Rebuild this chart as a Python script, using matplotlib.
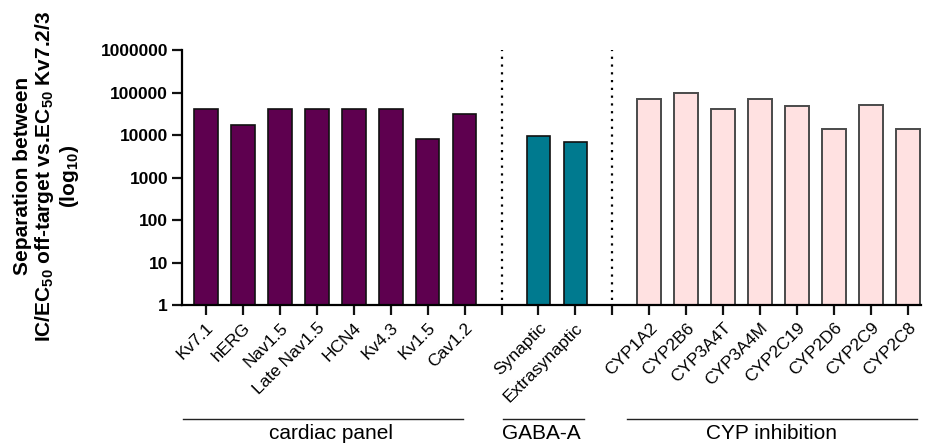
import matplotlib

matplotlib.use("Agg")
import matplotlib.pyplot as plt
import matplotlib.ticker as mticker
import numpy as np

plt.rcParams["font.family"] = ["Liberation Sans", "DejaVu Sans"]
plt.rcParams["mathtext.fontset"] = "custom"
plt.rcParams["mathtext.rm"] = "Liberation Sans"
plt.rcParams["mathtext.bf"] = "Liberation Sans:bold"

# Data (log scale, fold separation)
cardiac_labels = ["Kv7.1", "hERG", "Nav1.5", "Late Nav1.5", "HCN4", "Kv4.3", "Kv1.5", "Cav1.2"]
cardiac_values = [42000, 17000, 42000, 42000, 42000, 42000, 7900, 32000]

gaba_labels = ["Synaptic", "Extrasynaptic"]
gaba_values = [9500, 6700]

cyp_labels = ["CYP1A2", "CYP2B6", "CYP3A4T", "CYP3A4M", "CYP2C19", "CYP2D6", "CYP2C9", "CYP2C8"]
cyp_values = [70000, 99000, 41000, 69000, 49000, 14000, 51000, 13800]

group_names = ["cardiac panel", "GABA-A", "CYP inhibition"]
y_ticks = [1, 10, 100, 1000, 10000, 100000, 1000000]

# x positions: one empty slot between groups
cardiac_x = np.arange(len(cardiac_labels))
gaba_x = np.arange(len(gaba_labels)) + len(cardiac_labels) + 1
cyp_x = np.arange(len(cyp_labels)) + gaba_x[-1] + 2
sep_x = [len(cardiac_labels), gaba_x[-1] + 1]

fig = plt.figure(figsize=(9.27, 4.43), dpi=100)
ax = fig.add_axes([0.1963, 0.3115, 0.797, 0.5755])

bar_w = 0.64
ax.bar(cardiac_x, cardiac_values, width=bar_w, color="#5E004F", edgecolor="#111111", linewidth=1.2)
ax.bar(gaba_x, gaba_values, width=bar_w, color="#007A8F", edgecolor="#111111", linewidth=1.2)
ax.bar(cyp_x, cyp_values, width=bar_w, color="#FFE1E1", edgecolor="#4A4A4A", linewidth=1.4)

# dotted separators between groups
for sx in sep_x:
    ax.axvline(sx, ymin=0.02, ymax=1.0, color="black", linewidth=1.6, linestyle=(0, (1, 2.5)))

ax.set_yscale("log")
ax.set_ylim(1, 1000000)
ax.set_yticks(y_ticks)
ax.yaxis.set_major_formatter(mticker.FuncFormatter(lambda v, p: f"{int(round(v))}"))
ax.yaxis.set_minor_locator(mticker.NullLocator())

all_x = list(range(int(cyp_x[-1]) + 1))
tick_text = [""] * len(all_x)
for xs, labs in [(cardiac_x, cardiac_labels), (gaba_x, gaba_labels), (cyp_x, cyp_labels)]:
    for xv, lab in zip(xs, labs):
        tick_text[int(xv)] = lab
ax.set_xticks(all_x)
ax.set_xticklabels(tick_text, rotation=45, ha="right", rotation_mode="anchor", fontsize=12.5)
ax.set_xlim(-0.65, cyp_x[-1] + 0.35)

for lab in ax.get_yticklabels():
    lab.set_fontweight("bold")
    lab.set_fontsize(12.5)

for side in ["top", "right"]:
    ax.spines[side].set_visible(False)
for side in ["left", "bottom"]:
    ax.spines[side].set_linewidth(1.6)
ax.tick_params(axis="both", which="major", width=1.6, length=7, color="#111111")
ax.tick_params(axis="y", pad=3)
ax.tick_params(axis="x", pad=4)

# group brackets under the tick labels
trans = ax.get_xaxis_transform()
group_spans = [(-0.62, 6.97), (8.03, 10.24), (11.4, 19.24)]
group_text_x = [3.38, 9.07, 15.31]
for (x0, x1), tx, name in zip(group_spans, group_text_x, group_names):
    ax.plot([x0, x1], [-0.447, -0.447], color="#222222", linewidth=1.0,
            transform=trans, clip_on=False)
    ax.text(tx, -0.465, name, transform=trans, ha="center", va="top", fontsize=15)

fig.text(47 / 927, 1 - 176 / 443,
         "Separation between\nIC/EC$_{\\mathbf{50}}$ off-target vs.EC$_{\\mathbf{50}}$ Kv7.2/3\n(log$_{\\mathbf{10}}$)",
         rotation=90, ha="center", va="center", multialignment="center",
         fontsize=15, fontweight="bold", linespacing=1.1)

fig.savefig("out.png", dpi=100)
